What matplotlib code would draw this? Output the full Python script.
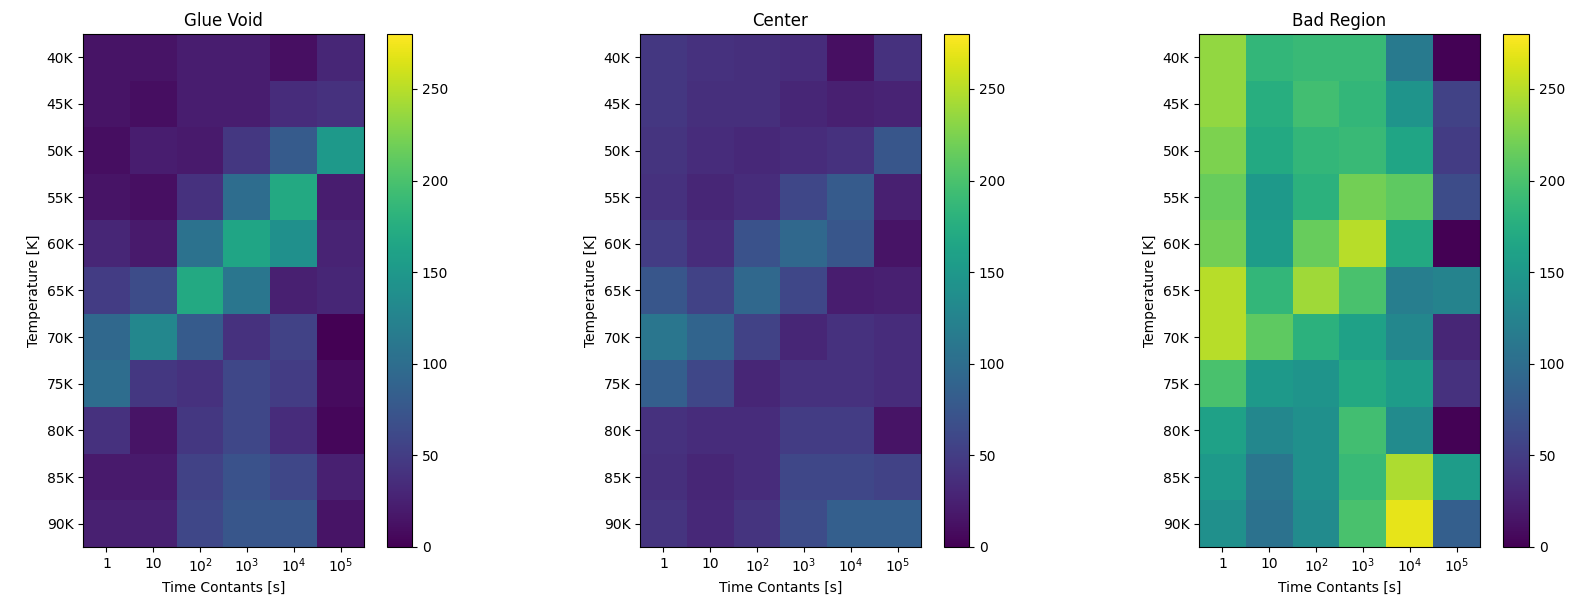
import numpy as np
import matplotlib
matplotlib.use("Agg")
import matplotlib.pyplot as plt

temps = ["40K", "45K", "50K", "55K", "60K", "65K", "70K", "75K", "80K", "85K", "90K"]
time_labels = ["1", "10", "$10^2$", "$10^3$", "$10^4$", "$10^5$"]

# counts per (temperature, time constant)
glue_void = [
    [15, 15, 22, 22, 12, 30],
    [15, 10, 22, 22, 35, 40],
    [10, 22, 20, 45, 80, 150],
    [15, 12, 40, 100, 170, 22],
    [30, 20, 105, 165, 140, 28],
    [50, 65, 170, 110, 25, 30],
    [95, 130, 80, 40, 55, 0],
    [100, 45, 40, 60, 50, 8],
    [40, 15, 45, 60, 35, 5],
    [20, 20, 55, 70, 60, 25],
    [25, 25, 60, 75, 75, 15],
]
center = [
    [45, 40, 38, 35, 12, 40],
    [45, 38, 38, 30, 25, 28],
    [42, 35, 32, 35, 40, 75],
    [40, 30, 35, 60, 80, 25],
    [50, 35, 70, 95, 75, 15],
    [75, 55, 95, 60, 22, 25],
    [110, 90, 55, 30, 40, 35],
    [85, 60, 30, 40, 40, 35],
    [40, 35, 35, 50, 50, 15],
    [38, 30, 35, 60, 60, 55],
    [42, 32, 42, 65, 85, 85],
]
bad_region = [
    [235, 185, 190, 190, 115, 2],
    [235, 175, 195, 185, 145, 55],
    [225, 170, 185, 190, 165, 50],
    [215, 150, 180, 220, 210, 65],
    [220, 155, 215, 250, 170, 1],
    [250, 185, 240, 200, 120, 125],
    [250, 210, 180, 160, 130, 30],
    [200, 150, 145, 170, 155, 40],
    [160, 130, 140, 195, 135, 2],
    [150, 110, 140, 190, 245, 155],
    [140, 105, 135, 200, 270, 85],
]
titles = ["Glue Void", "Center", "Bad Region"]
VMAX = 280

W, H = 1570, 606
fig = plt.figure(figsize=(W / 100, H / 100), dpi=100)

# pixel boxes: heatmap left/right, colorbar left/right; shared top/bottom
boxes = [(83, 364, 387, 412), (640, 921, 944, 969), (1199, 1480, 1503, 1529)]
top, bot = 34, 547

for data, title, (hl, hr, cl, cr) in zip([glue_void, center, bad_region], titles, boxes):
    ax = fig.add_axes([hl / W, (H - bot) / H, (hr - hl) / W, (bot - top) / H])
    cax = fig.add_axes([cl / W, (H - bot) / H, (cr - cl) / W, (bot - top) / H])
    im = ax.imshow(np.array(data), cmap="viridis", vmin=0, vmax=VMAX, aspect="auto")
    ax.set_xticks(range(len(time_labels)))
    ax.set_xticklabels(time_labels)
    ax.set_yticks(range(len(temps)))
    ax.set_yticklabels(temps)
    ax.set_title(title)
    ax.set_xlabel("Time Contants [s]")
    ax.set_ylabel("Temperature [K]")
    cb = fig.colorbar(im, cax=cax)
    cb.set_ticks([0, 50, 100, 150, 200, 250])

fig.savefig("out.png", dpi=100)
